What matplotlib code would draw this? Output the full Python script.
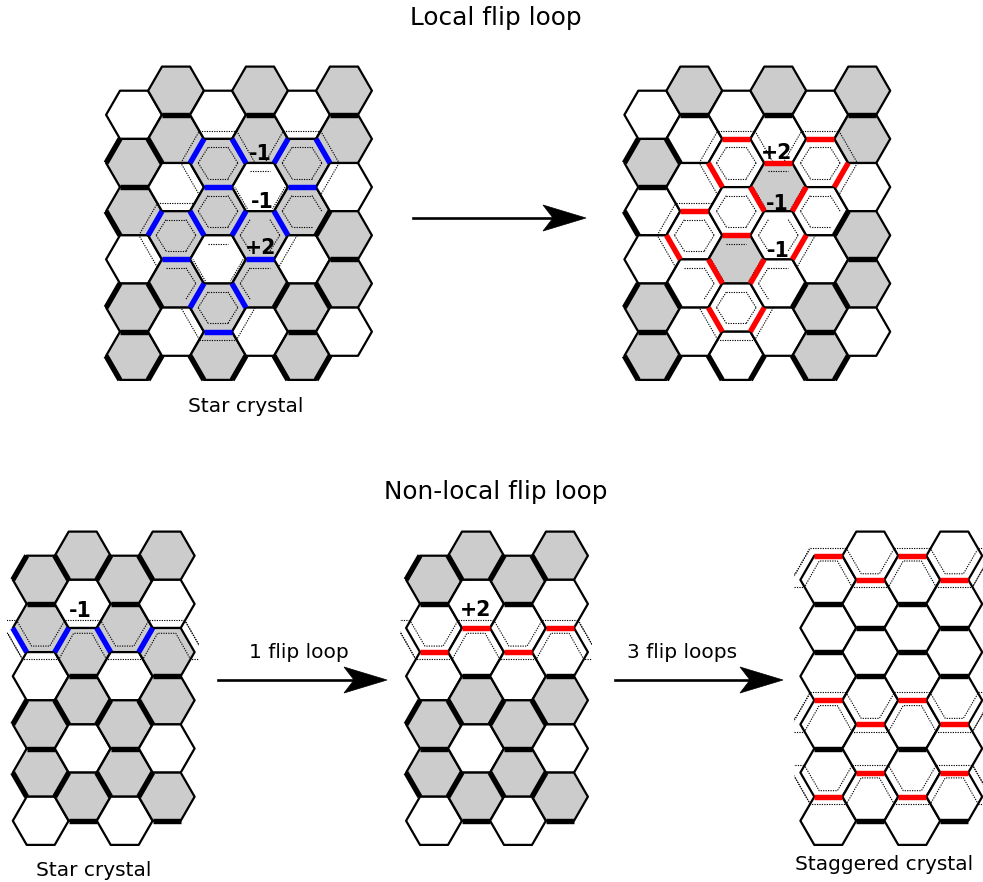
import matplotlib
matplotlib.use('Agg')
import matplotlib.pyplot as plt
from matplotlib.patches import Polygon, Rectangle

# Rejilla hexagonal: (columna, fila); las columnas pares van media fila mas abajo
COLS = [0, 1, 2, 3, 4, 5]
COLS_NARROW = [0, 1, 2, 3]
ROWS = [0, 1, 2, 3, 4, 5]

# Celdas grises de cada panel
gray_star_wide = [(0, 1), (0, 2), (0, 4), (0, 5), (1, 0), (1, 1), (1, 3), (1, 4),
                  (2, 1), (2, 2), (2, 4), (2, 5), (3, 0), (3, 1), (3, 3), (3, 4),
                  (4, 1), (4, 2), (4, 4), (4, 5), (5, 0), (5, 1), (5, 3), (5, 4)]
gray_flip_wide = [(0, 1), (0, 4), (0, 5), (1, 0), (3, 0), (3, 2), (2, 3),
                  (4, 4), (4, 5), (5, 0), (5, 1), (5, 3), (5, 4)]
gray_star_narrow = [(0, 0), (0, 1), (0, 3), (0, 4), (1, 0), (1, 2), (1, 3), (1, 5),
                    (2, 0), (2, 1), (2, 3), (2, 4), (3, 0), (3, 2), (3, 3), (3, 5)]
gray_flip_narrow = [(0, 0), (0, 3), (0, 4), (1, 0), (1, 3), (1, 5),
                    (2, 0), (2, 3), (2, 4), (3, 0), (3, 3), (3, 5)]
gray_staggered = []

# Enlaces gruesos: (columna, fila, lado)
black_wide = [(1, 0, 'b'), (3, 0, 'b'), (5, 0, 'b'),
              (0, 1, 'ul'), (0, 1, 'ur'), (0, 1, 'b'),
              (-1, 3, 'ur'), (5, 3, 'ul'), (5, 3, 'b'),
              (0, 4, 'ul'), (0, 4, 'ur'), (0, 4, 'b'),
              (4, 4, 'ul'), (4, 4, 'ur'), (4, 4, 'b'),
              (-1, 6, 'ur'), (1, 6, 'ul'), (1, 6, 'ur'),
              (3, 6, 'ul'), (3, 6, 'ur'), (5, 6, 'ul')]
blue_wide = [(2, 1, 'ul'), (2, 1, 'ur'), (2, 1, 'b'),
             (4, 1, 'ul'), (4, 1, 'ur'), (4, 1, 'b'),
             (1, 3, 'ul'), (1, 3, 'ur'), (1, 3, 'b'),
             (3, 3, 'ul'), (3, 3, 'ur'), (3, 3, 'b'),
             (2, 4, 'ul'), (2, 4, 'ur'), (2, 4, 'b')]
red_wide = [(2, 1, 't'), (4, 1, 't'), (3, 2, 't'), (1, 3, 't'), (2, 3, 't'),
            (2, 1, 'll'), (4, 1, 'lr'), (3, 2, 'll'), (3, 2, 'lr'),
            (1, 3, 'll'), (3, 3, 'lr'), (2, 3, 'll'), (2, 3, 'lr'),
            (2, 4, 'll'), (2, 4, 'lr')]

black_narrow = [(0, 0, 'ul'), (0, 0, 'ur'), (0, 0, 'b'),
                (2, 0, 'ul'), (2, 0, 'ur'), (2, 0, 'b'),
                (1, 2, 'b'), (3, 2, 'b'),
                (0, 3, 'ul'), (0, 3, 'ur'), (0, 3, 'b'),
                (2, 3, 'ul'), (2, 3, 'ur'), (2, 3, 'b'),
                (-1, 5, 'ur'), (1, 5, 'ul'), (1, 5, 'ur'), (1, 5, 'b'),
                (3, 5, 'ul'), (3, 5, 'b')]
blue_narrow = [(-1, 2, 'ur'), (1, 2, 'ul'), (1, 2, 'ur'), (3, 2, 'ul')]
red_narrow = [(0, 1, 'b'), (1, 2, 't'), (2, 1, 'b'), (3, 2, 't')]

black_staggered = [(0, 0, 'b'), (0, 1, 'b'), (0, 3, 'b'),
                   (2, 0, 'b'), (2, 1, 'b'), (2, 3, 'b'),
                   (1, 1, 'b'), (1, 2, 'b'), (1, 5, 'b'),
                   (3, 1, 'b'), (3, 2, 'b'), (3, 5, 'b')]
red_staggered = [(0, 0, 't'), (1, 0, 'b'), (2, 0, 't'), (3, 0, 'b'),
                 (0, 3, 't'), (1, 3, 'b'), (2, 3, 't'), (3, 3, 'b'),
                 (1, 5, 't'), (0, 4, 'b'), (3, 5, 't'), (2, 4, 'b')]

# Lineas punteadas del lazo en el panel ancho: (columna, fila, lados)
loop_inner = [(2, 1, 't ur lr b ll ul'), (4, 1, 't ur lr b ll ul'),
              (2, 2, 't ur lr b ll ul'), (4, 2, 't ul ll b ur'),
              (1, 3, 't ur lr b ll ul'), (3, 3, 'ul ll ur lr'),
              (1, 4, 't ur lr'), (3, 4, 't ul ll'),
              (2, 4, 't ur lr b ll ul'), (3, 2, 't'), (2, 3, 't')]
loop_wide = [(3, 2, 'll lr'), (2, 3, 'll lr')]
loop_outer = [(2, 1, 'ul ur t ll'), (4, 1, 'ul ur t lr'),
              (1, 3, 't ul ll'), (3, 3, 'lr'), (2, 4, 'll b lr')]

# Tiras punteadas de los paneles estrechos: (fila, columnas)
strip_top_narrow = [(2, [-1, 1, 3, 5])]
strip_bottom_narrow = [(1, [0, 2, 4])]
strip_top_stag = [(0, [0, 2, 4]), (3, [0, 2, 4]), (5, [-1, 1, 3, 5])]
strip_bottom_stag = [(0, [-1, 1, 3]), (3, [-1, 1, 3]), (4, [0, 2, 4])]

HW, TW, HH, DX, DY = 27.9, 14.0, 24.1, 42.0, 48.2
THIN, THICK = 1.6, 3.9
GRAY = '#cccccc'


def center(panel, col, row):
    x0, y0 = panel
    y = y0 + row * DY + (DY / 2 if col % 2 == 0 else 0)
    return x0 + col * DX, y


def corners(cx, cy, sx=1.0, sy=1.0):
    return [(cx - TW * sx, cy - HH * sy), (cx + TW * sx, cy - HH * sy),
            (cx + HW * sx, cy), (cx + TW * sx, cy + HH * sy),
            (cx - TW * sx, cy + HH * sy), (cx - HW * sx, cy)]


SIDE = {'t': 0, 'ur': 1, 'lr': 2, 'b': 3, 'll': 4, 'ul': 5}


def edge(panel, col, row, side, sx=1.0, sy=1.0):
    pts = corners(*center(panel, col, row), sx, sy)
    k = SIDE[side]
    return pts[k], pts[(k + 1) % 6]


def draw_lattice(ax, panel, cols, gray):
    for col in cols:
        for row in ROWS:
            pts = corners(*center(panel, col, row))
            fc = GRAY if (col, row) in gray else 'white'
            ax.add_patch(Polygon(pts, closed=True, fc=fc, ec='black', lw=THIN,
                                 joinstyle='round', zorder=1))


def draw_bonds(ax, panel, bonds, color):
    for col, row, side in bonds:
        p, q = edge(panel, col, row, side)
        ax.plot([p[0], q[0]], [p[1], q[1]], color=color, lw=THICK,
                solid_capstyle='butt', zorder=4)


def dotted(ax, xs, ys, clip=None):
    line, = ax.plot(xs, ys, color='black', lw=0.8, ls=(0, (1.1, 1.1)), zorder=3)
    if clip is not None:
        line.set_clip_path(clip)


def draw_sides(ax, panel, items, sx, sy, clip=None):
    for col, row, sides in items:
        for s in sides.split():
            p, q = edge(panel, col, row, s, sx, sy)
            dotted(ax, [p[0], q[0]], [p[1], q[1]], clip)


def draw_loop(ax, panel):
    draw_sides(ax, panel, loop_inner, 0.71, 0.65)
    draw_sides(ax, panel, loop_wide, 0.9, 0.9)
    draw_sides(ax, panel, loop_outer, 1.33, 1.33)


def draw_strip(ax, panel, tops, bottoms, xlim):
    clip = Rectangle((xlim[0], 0), xlim[1] - xlim[0], 882, transform=ax.transData)
    for row, cols in tops:
        for col in cols:
            pts = corners(*center(panel, col, row), 0.65, 0.78)
            a, b, c, d = pts[5], pts[0], pts[1], pts[2]
            # lados alargados un poco mas alla del vertice
            dotted(ax, [a[0] - 5, b[0], c[0], d[0] + 5], [a[1] + 6, b[1], c[1], d[1] + 6], clip)
            sides = 't'
            if col == 0:
                sides += ' ul'
            if col == 3:
                sides += ' ur'
            draw_sides(ax, panel, [(col, row, sides)], 1.3, 1.33, clip)
    for row, cols in bottoms:
        for col in cols:
            pts = corners(*center(panel, col, row), 0.65, 0.75)
            a, b, c, d = pts[5], pts[4], pts[3], pts[2]
            dotted(ax, [a[0] - 5, b[0], c[0], d[0] + 5], [a[1] - 6, b[1], c[1], d[1] - 6], clip)
            sides = 'b'
            if col == 0:
                sides += ' ll'
            if col == 3:
                sides += ' lr'
            draw_sides(ax, panel, [(col, row, sides)], 1.3, 1.3, clip)


def draw_arrow(ax, x0, x1, y):
    ax.plot([x0, x1 - 30], [y, y], color='black', lw=1.9, zorder=5)
    head = [(x1, y), (x1 - 43, y - 13), (x1 - 33, y), (x1 - 43, y + 13)]
    ax.add_patch(Polygon(head, closed=True, fc='black', ec='black', lw=0.5, zorder=5))


fig = plt.figure(figsize=(9.83, 8.82), dpi=100)
ax = fig.add_axes([0, 0, 1, 1])
ax.set_xlim(0, 983)
ax.set_ylim(882, 0)
ax.axis('off')

P1 = (134.0, 90.7)
P2 = (652.3, 90.7)
P3 = (40.7, 555.7)
P4 = (434.0, 555.7)
P5 = (828.3, 555.7)

draw_lattice(ax, P1, COLS, gray_star_wide)
draw_loop(ax, P1)
draw_bonds(ax, P1, black_wide, 'black')
draw_bonds(ax, P1, blue_wide, '#0000ff')

draw_lattice(ax, P2, COLS, gray_flip_wide)
draw_loop(ax, P2)
draw_bonds(ax, P2, black_wide, 'black')
draw_bonds(ax, P2, red_wide, '#ff0000')

draw_lattice(ax, P3, COLS_NARROW, gray_star_narrow)
draw_strip(ax, P3, strip_top_narrow, strip_bottom_narrow, (7, 199))
draw_bonds(ax, P3, black_narrow, 'black')
draw_bonds(ax, P3, blue_narrow, '#0000ff')

draw_lattice(ax, P4, COLS_NARROW, gray_flip_narrow)
draw_strip(ax, P4, strip_top_narrow, strip_bottom_narrow, (400, 592))
draw_bonds(ax, P4, black_narrow, 'black')
draw_bonds(ax, P4, red_narrow, '#ff0000')

draw_lattice(ax, P5, COLS_NARROW, gray_staggered)
draw_strip(ax, P5, strip_top_stag, strip_bottom_stag, (794, 983))
draw_bonds(ax, P5, black_staggered, 'black')
draw_bonds(ax, P5, red_staggered, '#ff0000')

draw_arrow(ax, 413, 586, 218)
draw_arrow(ax, 218, 387, 680)
draw_arrow(ax, 615, 783, 680)

titles = [('Local flip loop', 496, 18), ('Non-local flip loop', 496, 492)]
for s, x, y in titles:
    ax.text(x, y, s, fontsize=17.8, ha='center', va='center')

labels = [('Star crystal', 245.5, 406), ('Star crystal', 93.5, 870),
          ('Staggered crystal', 884.5, 865), ('1 flip loop', 299, 653),
          ('3 flip loops', 682, 653)]
for s, x, y in labels:
    ax.text(x, y, s, fontsize=14.5, ha='center', va='center')

charges = [('-1', 260, 154), ('-1', 262, 202), ('+2', 261, 248),
           ('+2', 777, 153), ('-1', 777, 204), ('-1', 778, 251),
           ('-1', 80, 611), ('+2', 476, 610)]
for s, x, y in charges:
    ax.text(x, y, s, fontsize=14.8, fontweight='bold', ha='center', va='center', zorder=6)

fig.savefig('out.png', dpi=100)
